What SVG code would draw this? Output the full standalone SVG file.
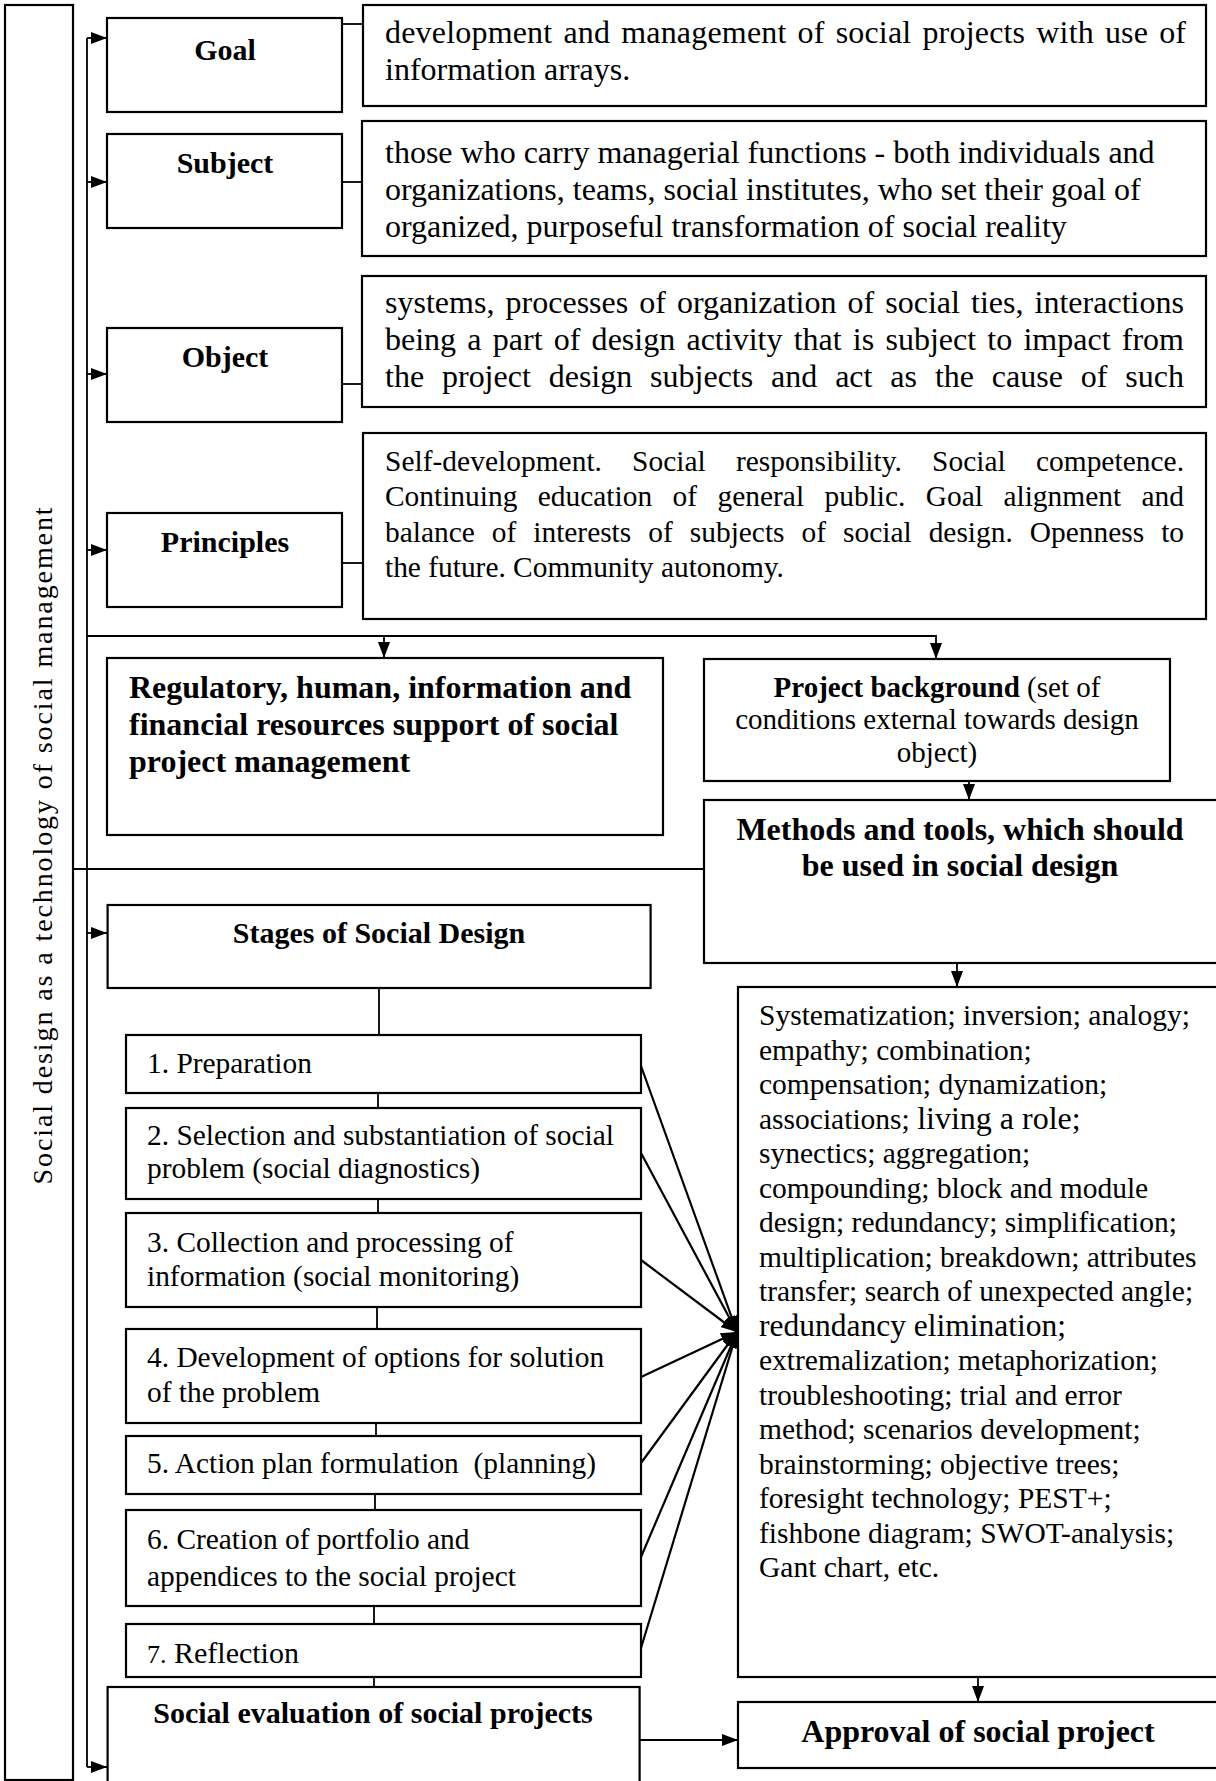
<svg xmlns="http://www.w3.org/2000/svg" width="1216" height="1781" viewBox="0 0 1216 1781">
<style>
.box{fill:#fff;stroke:#000;stroke-width:2.2}
.ln{fill:none;stroke:#000;stroke-width:1.8}
.dl{fill:none;stroke:#000;stroke-width:2.2}
text{font-family:"Liberation Serif","Times New Roman",serif;fill:#000}
.h{font-weight:bold;font-size:30px;text-anchor:middle}
.d{font-size:32px}
.p{font-size:29.4px}
.s{font-size:29.4px}
.l{font-size:29.5px}
.b32{font-weight:bold;font-size:32px}
</style>
<defs>
<marker id="ah" markerUnits="userSpaceOnUse" markerWidth="16" markerHeight="12" refX="16" refY="6" orient="auto">
<path d="M0,0 L16,6 L0,12 z" fill="#000"/>
</marker>
</defs>

<g id="connectors">
<path class="ln" d="M87,38 V1767"/>
<path class="ln" d="M87,38 H107" marker-end="url(#ah)"/>
<path class="ln" d="M87,182 H107" marker-end="url(#ah)"/>
<path class="ln" d="M87,374 H107" marker-end="url(#ah)"/>
<path class="ln" d="M87,550 H107" marker-end="url(#ah)"/>
<path class="ln" d="M87,933 H107" marker-end="url(#ah)"/>
<path class="ln" d="M87,1767 H107" marker-end="url(#ah)"/>
<path class="ln" d="M342,24 H363"/>
<path class="ln" d="M342,182 H362"/>
<path class="ln" d="M342,384 H362"/>
<path class="ln" d="M342,563 H363"/>
<path class="ln" d="M87,636 H936 V659" marker-end="url(#ah)"/>
<path class="ln" d="M384,636 V658" marker-end="url(#ah)"/>
<path class="ln" d="M73,869 H704"/>
<path class="ln" d="M969,781 V800" marker-end="url(#ah)"/>
<path class="ln" d="M957,963 V987" marker-end="url(#ah)"/>
<path class="ln" d="M978,1677 V1702" marker-end="url(#ah)"/>
<path class="ln" d="M640,1740 H738" marker-end="url(#ah)"/>
<path class="ln" d="M379,988 V1035"/>
<path class="ln" d="M378,1093 V1108"/>
<path class="ln" d="M378,1199 V1213"/>
<path class="ln" d="M377,1307 V1329"/>
<path class="ln" d="M376,1423 V1436"/>
<path class="ln" d="M375,1494 V1510"/>
<path class="ln" d="M374,1606 V1624"/>
<path class="ln" d="M374,1677 V1687"/>
<path class="dl" d="M641,1066 L737,1332" marker-end="url(#ah)"/>
<path class="dl" d="M641,1153 L737,1332" marker-end="url(#ah)"/>
<path class="dl" d="M641,1260 L737,1332" marker-end="url(#ah)"/>
<path class="dl" d="M641,1377 L737,1332" marker-end="url(#ah)"/>
<path class="dl" d="M641,1463 L737,1332" marker-end="url(#ah)"/>
<path class="dl" d="M641,1557 L737,1332" marker-end="url(#ah)"/>
<path class="dl" d="M641,1648 L737,1332" marker-end="url(#ah)"/>
</g>

<g id="social-design">
<rect class="box" x="5" y="5" width="68" height="1775"/>
<text transform="translate(52,845) rotate(-90)" text-anchor="middle" font-size="28" letter-spacing="1.9">Social design as a technology of social management</text>
</g>

<g id="goal">
<rect class="box" x="107" y="18" width="235" height="94"/>
<text class="h" x="225" y="60">Goal</text>
</g>
<g id="goal-desc">
<rect class="box" x="363" y="5" width="843" height="101"/>
<text class="d" x="385" y="43" word-spacing="2.8" textLength="801" lengthAdjust="spacing">development and management of social projects with use of</text>
<text class="d" x="385" y="80">information arrays.</text>
</g>

<g id="subject">
<rect class="box" x="107" y="134" width="235" height="94"/>
<text class="h" x="225" y="173">Subject</text>
</g>
<g id="subject-desc">
<rect class="box" x="362" y="121" width="844" height="135"/>
<text class="d" x="385" y="163">those who carry managerial functions - both individuals and</text>
<text class="d" x="385" y="200">organizations, teams, social institutes, who set their goal of</text>
<text class="d" x="385" y="237">organized, purposeful transformation of social reality</text>
</g>

<g id="object">
<rect class="box" x="107" y="328" width="235" height="94"/>
<text class="h" x="225" y="367">Object</text>
</g>
<g id="object-desc">
<rect class="box" x="362" y="276" width="844" height="131"/>
<text class="d" x="385" y="313" word-spacing="3" textLength="799" lengthAdjust="spacing">systems, processes of organization of social ties, interactions</text>
<text class="d" x="385" y="350" word-spacing="3.2" textLength="799" lengthAdjust="spacing">being a part of design activity that is subject to impact from</text>
<text class="d" x="385" y="387" word-spacing="9.9" textLength="799" lengthAdjust="spacing">the project design subjects and act as the cause of such</text>
</g>

<g id="principles">
<rect class="box" x="107" y="513" width="235" height="94"/>
<text class="h" x="225" y="552">Principles</text>
</g>
<g id="principles-desc">
<rect class="box" x="363" y="433" width="843" height="186"/>
<text class="p" x="385" y="471" word-spacing="22.7" textLength="799" lengthAdjust="spacing">Self-development. Social responsibility. Social competence.</text>
<text class="p" x="385" y="506" word-spacing="13.1" textLength="799" lengthAdjust="spacing">Continuing education of general public. Goal alignment and</text>
<text class="p" x="385" y="542" word-spacing="9.7" textLength="799" lengthAdjust="spacing">balance of interests of subjects of social design. Openness to</text>
<text class="p" x="385" y="577">the future. Community autonomy.</text>
</g>

<g id="resources">
<rect class="box" x="107" y="658" width="556" height="177"/>
<text class="b32" x="129" y="698">Regulatory, human, information and</text>
<text class="b32" x="129" y="735">financial resources support of social</text>
<text class="b32" x="129" y="772">project management</text>
</g>

<g id="project-background">
<rect class="box" x="704" y="659" width="466" height="122"/>
<text font-size="29" text-anchor="middle" x="937" y="697"><tspan font-weight="bold">Project background</tspan> (set of</text>
<text font-size="29" text-anchor="middle" x="937" y="729">conditions external towards design</text>
<text font-size="29" text-anchor="middle" x="937" y="762">object)</text>
</g>

<g id="methods">
<rect class="box" x="704" y="800" width="530" height="163"/>
<text class="b32" text-anchor="middle" x="960" y="840">Methods and tools, which should</text>
<text class="b32" text-anchor="middle" x="960" y="876">be used in social design</text>
</g>

<g id="methods-list">
<rect class="box" x="738" y="987" width="496" height="690"/>
<text class="l" x="759" y="1025">Systematization; inversion; analogy;</text>
<text class="l" x="759" y="1059.5">empathy; combination;</text>
<text class="l" x="759" y="1094">compensation; dynamization;</text>
<text class="l" x="759" y="1128.5">associations; <tspan font-size="32">living a role;</tspan></text>
<text class="l" x="759" y="1163">synectics; aggregation;</text>
<text class="l" x="759" y="1197.5">compounding; block and module</text>
<text class="l" x="759" y="1232">design; redundancy; simplification;</text>
<text class="l" x="759" y="1266.5">multiplication; breakdown; attributes</text>
<text class="l" x="759" y="1301">transfer; search of unexpected angle;</text>
<text x="759" y="1335.5" font-size="31.5">redundancy elimination;</text>
<text class="l" x="759" y="1370">extremalization; metaphorization;</text>
<text class="l" x="759" y="1404.5">troubleshooting; trial and error</text>
<text class="l" x="759" y="1439">method; scenarios development;</text>
<text class="l" x="759" y="1473.5">brainstorming; objective trees;</text>
<text class="l" x="759" y="1508">foresight technology; PEST+;</text>
<text class="l" x="759" y="1542.5">fishbone diagram; SWOT-analysis;</text>
<text class="l" x="759" y="1577">Gant chart, etc.</text>
</g>

<g id="approval">
<rect class="box" x="738" y="1702" width="496" height="66"/>
<text class="b32" text-anchor="middle" x="978" y="1742">Approval of social project</text>
</g>

<g id="stages">
<rect class="box" x="107.6" y="905" width="543" height="83"/>
<text class="h" font-size="28.7" x="379" y="943">Stages of Social Design</text>
</g>

<g id="stage-1">
<rect class="box" x="126" y="1035" width="515" height="58"/>
<text class="s" x="147" y="1073">1. Preparation</text>
</g>
<g id="stage-2">
<rect class="box" x="126" y="1108" width="515" height="91"/>
<text class="s" x="147" y="1145">2. Selection and substantiation of social</text>
<text class="s" x="147" y="1178">problem (social diagnostics)</text>
</g>
<g id="stage-3">
<rect class="box" x="126" y="1213" width="515" height="94"/>
<text class="s" x="147" y="1252">3. Collection and processing of</text>
<text class="s" x="147" y="1286">information (social monitoring)</text>
</g>
<g id="stage-4">
<rect class="box" x="126" y="1329" width="515" height="94"/>
<text class="s" x="147" y="1367">4. Development of options for solution</text>
<text class="s" x="147" y="1402">of the problem</text>
</g>
<g id="stage-5">
<rect class="box" x="126" y="1436" width="515" height="58"/>
<text class="s" x="147" y="1473" xml:space="preserve">5. Action plan formulation  (planning)</text>
</g>
<g id="stage-6">
<rect class="box" x="126" y="1510" width="515" height="96"/>
<text class="s" x="147" y="1549">6. Creation of portfolio and</text>
<text class="s" x="147" y="1586">appendices to the social project</text>
</g>
<g id="stage-7">
<rect class="box" x="126" y="1624" width="515" height="53"/>
<text x="147" y="1663"><tspan font-size="26">7.</tspan><tspan font-size="30"> Reflection</tspan></text>
</g>

<g id="social-evaluation">
<rect class="box" x="107.6" y="1687" width="532" height="110"/>
<text class="h" font-size="28.5" x="373" y="1723">Social evaluation of social projects</text>
</g>
</svg>
